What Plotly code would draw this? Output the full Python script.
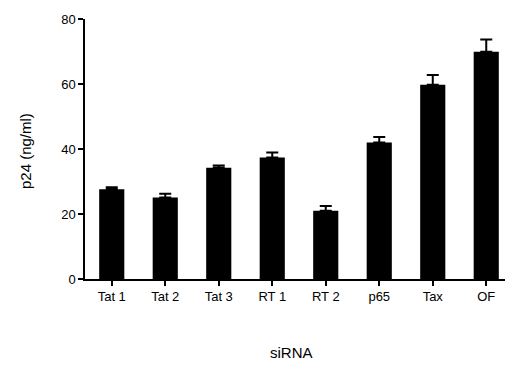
import plotly.graph_objects as go

categories = ["Tat 1", "Tat 2", "Tat 3", "RT 1", "RT 2", "p65", "Tax", "OF"]
values = [27.6, 25.1, 34.2, 37.4, 21.0, 42.0, 59.8, 69.9]
errors = [0.6, 1.1, 0.7, 1.5, 1.5, 1.7, 3.0, 3.8]
y_ticks = [0, 20, 40, 60, 80]

# page body has an 8px margin; figure is sized to fill the rest of the window
W, H = 505, 357
L, R, T, B = 77, 0, 11, 86

fig = go.Figure()
fig.add_trace(go.Bar(
    x=categories, y=values,
    marker=dict(color="black", line=dict(width=0)),
    width=0.47,
    error_y=dict(type="data", array=errors, symmetric=False, arrayminus=[0]*len(errors),
                 color="black", thickness=2, width=6),
))

tick_font = dict(family="Liberation Sans, Arial, sans-serif", size=13, color="black")
title_font = dict(family="Liberation Sans, Arial, sans-serif", size=15, color="black")
pw = W - L - R
ph = H - T - B
fig.update_layout(
    width=W, height=H,
    margin=dict(l=L, r=R, t=T, b=B, pad=0),
    plot_bgcolor="white", paper_bgcolor="white",
    showlegend=False, font=tick_font,
    xaxis=dict(range=[-0.5, 7.5], showline=True, linecolor="black", linewidth=1.5,
               ticks="outside", ticklen=5, tickcolor="black", tickwidth=1.5,
               showgrid=False, zeroline=False, tickfont=tick_font),
    yaxis=dict(range=[0, 80], tickvals=y_ticks, showline=True, linecolor="black", linewidth=1.5,
               ticks="outside", ticklen=5, tickcolor="black", tickwidth=1.5,
               showgrid=False, zeroline=False, tickfont=tick_font),
    annotations=[
        dict(text="p24 (ng/ml)", x=(17 - L) / pw, y=(H - B - 143) / ph, xref="paper", yref="paper",
             showarrow=False, textangle=-90, font=title_font, xanchor="center", yanchor="middle"),
        dict(text="siRNA", x=(283 - L) / pw, y=(H - B - 344) / ph, xref="paper", yref="paper",
             showarrow=False, font=title_font, xanchor="center", yanchor="middle"),
    ],
)

fig.write_html("out.html")
